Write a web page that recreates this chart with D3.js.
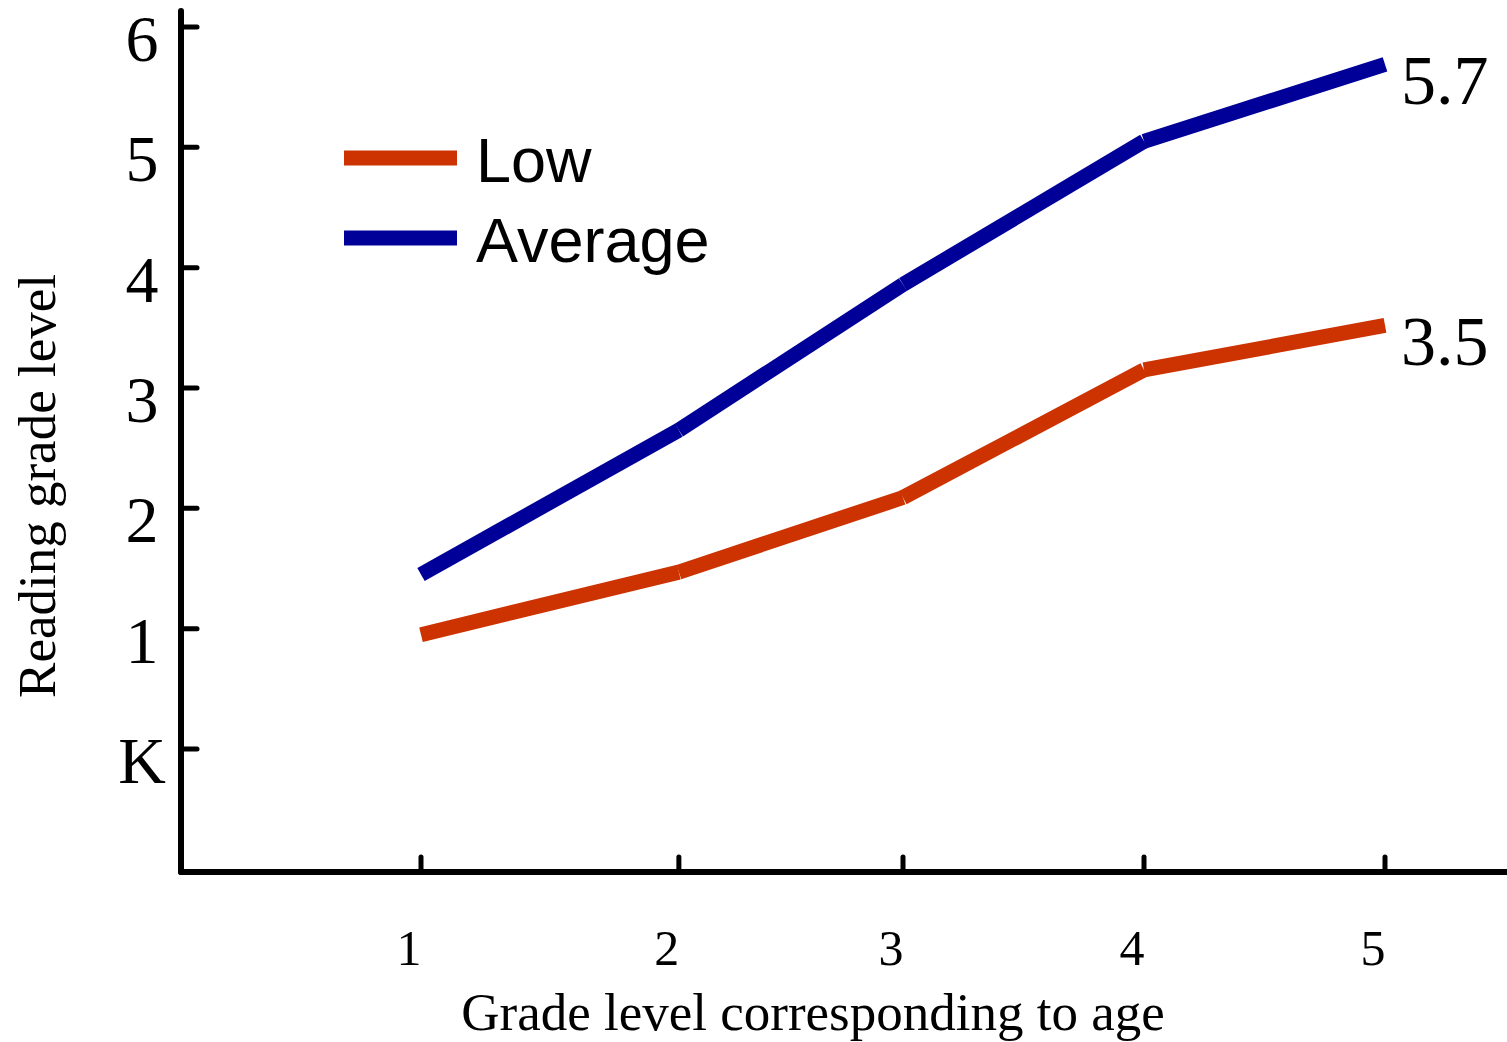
<!DOCTYPE html>
<html>
<head>
<meta charset="utf-8">
<script src="https://cdn.jsdelivr.net/npm/d3@7"></script>
<style>
  body { margin: 0; background: white; }
  svg { display: block; }
</style>
</head>
<body>
<script>
// data
const grades = ["1", "2", "3", "4", "5"]
// where each grade sits on the x axis (grade 2 is drawn a bit to the right)
const gradePos = [1, 2.07, 3, 4, 5]
const lowValues = [0.95, 1.47, 2.09, 3.15, 3.52]
const averageValues = [1.45, 2.65, 3.86, 5.05, 5.69]
const yTickValues = [0, 1, 2, 3, 4, 5, 6]
const yTickLabels = ["K", "1", "2", "3", "4", "5", "6"]
const endLabels = ["3.5", "5.7"]

const width = 1507,
  height = 1042,
  serif = "'Liberation Serif', 'Times New Roman', serif",
  sans = "'Liberation Sans', Arial, sans-serif"

const series = [
  { name: "Low", values: lowValues, color: "#CC3300", label: endLabels[0] },
  { name: "Average", values: averageValues, color: "#000099", label: endLabels[1] }
]

// scales
const x = d3.scaleLinear().domain([1, 5]).range([421, 1385])
const y = d3.scaleLinear().domain([0, 6]).range([749, 27])

const svg = d3.select("body")
  .append("svg")
  .attr("width", width)
  .attr("height", height)

// axes lines
const axisX = 181, axisY = 872
svg.append("line")
  .attr("x1", axisX).attr("x2", axisX)
  .attr("y1", 11).attr("y2", axisY)
  .attr("stroke", "black").attr("stroke-width", 6)
  .attr("stroke-linecap", "round")
svg.append("line")
  .attr("x1", axisX).attr("x2", width)
  .attr("y1", axisY).attr("y2", axisY)
  .attr("stroke", "black").attr("stroke-width", 6)
  .attr("stroke-linecap", "round")

// y ticks (pointing inwards)
svg.selectAll(".ytick")
  .data(yTickValues)
  .join("line")
  .attr("class", "ytick")
  .attr("x1", axisX).attr("x2", axisX + 16)
  .attr("y1", d => y(d)).attr("y2", d => y(d))
  .attr("stroke", "black").attr("stroke-width", 5)
  .attr("stroke-linecap", "round")

svg.selectAll(".ylabel")
  .data(yTickValues)
  .join("text")
  .attr("class", "ylabel")
  .attr("x", 142)
  .attr("y", d => y(d) + 34)
  .attr("text-anchor", "middle")
  .style("font-family", serif)
  .style("font-size", "66px")
  .text((d, i) => yTickLabels[i])

// x ticks (pointing up)
svg.selectAll(".xtick")
  .data(gradePos)
  .join("line")
  .attr("class", "xtick")
  .attr("x1", d => x(d)).attr("x2", d => x(d))
  .attr("y1", axisY).attr("y2", axisY - 15)
  .attr("stroke", "black").attr("stroke-width", 5)
  .attr("stroke-linecap", "round")

svg.selectAll(".xlabel")
  .data(gradePos)
  .join("text")
  .attr("class", "xlabel")
  .attr("x", d => x(d) - 12)
  .attr("y", 965)
  .attr("text-anchor", "middle")
  .style("font-family", serif)
  .style("font-size", "50px")
  .text((d, i) => grades[i])

// axis titles
svg.append("text")
  .attr("transform", "translate(55,486) rotate(-90)")
  .attr("text-anchor", "middle")
  .style("font-family", serif)
  .style("font-size", "53px")
  .text("Reading grade level")

svg.append("text")
  .attr("x", 813)
  .attr("y", 1030)
  .attr("text-anchor", "middle")
  .style("font-family", serif)
  .style("font-size", "53px")
  .text("Grade level corresponding to age")

// lines, drawn segment by segment like the original
series.forEach(s => {
  const segs = d3.pairs(s.values.map((v, i) => [gradePos[i], v]))
  svg.selectAll(null)
    .data(segs)
    .join("line")
    .attr("x1", d => x(d[0][0])).attr("y1", d => y(d[0][1]))
    .attr("x2", d => x(d[1][0])).attr("y2", d => y(d[1][1]))
    .attr("stroke", s.color)
    .attr("stroke-width", 15)
    .attr("stroke-linecap", "butt")

  // value label at the end
  const last = s.values.length - 1
  svg.append("text")
    .attr("x", 1401)
    .attr("y", y(s.values[last]) + 40)
    .style("font-family", serif)
    .style("font-size", "70px")
    .text(s.label)
})

// legend
const legend = svg.append("g")
series.forEach((s, i) => {
  const ly = 158 + i * 80
  legend.append("rect")
    .attr("x", 344).attr("y", ly - 7.5)
    .attr("width", 113).attr("height", 15)
    .attr("fill", s.color)
  legend.append("text")
    .attr("x", 476)
    .attr("y", ly + 24)
    .style("font-family", sans)
    .style("font-size", "63px")
    .text(s.name)
})
</script>
</body>
</html>
